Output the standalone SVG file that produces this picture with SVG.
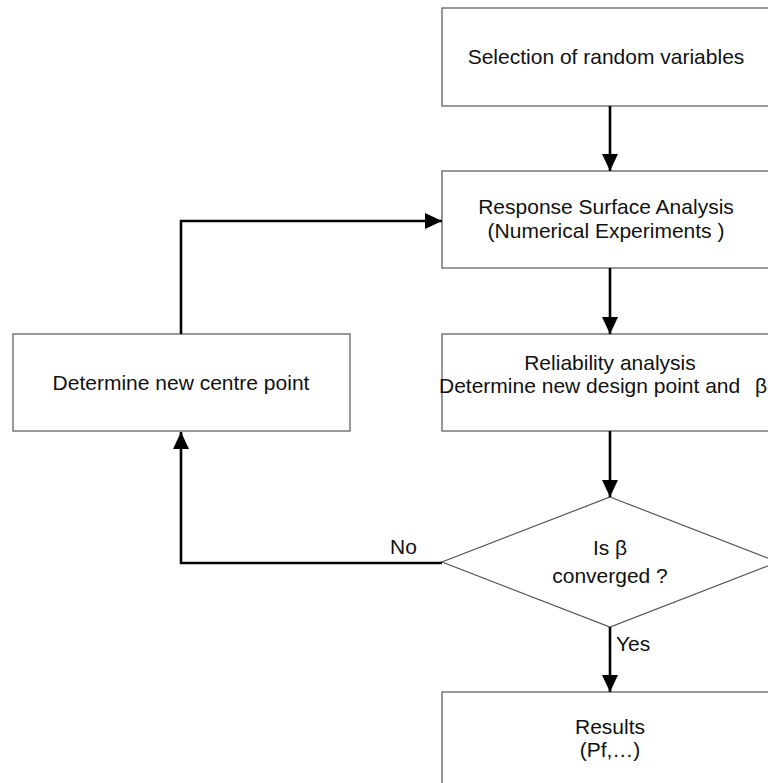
<svg xmlns="http://www.w3.org/2000/svg" width="768" height="783" viewBox="0 0 768 783">
  <style>
    .box { fill: #ffffff; stroke: #555555; stroke-width: 1.2; }
    .conn { fill: none; stroke: #000000; stroke-width: 2.6; }
    .t { font-family: "Liberation Sans", Arial, sans-serif; font-size: 21px; fill: #111111; }
    .c { text-anchor: middle; }
  </style>
  <defs>
    <marker id="arr" markerUnits="userSpaceOnUse" markerWidth="18" markerHeight="17" refX="17" refY="8" orient="auto">
      <path d="M0,0 L17,8 L0,16 Z" fill="#000000"/>
    </marker>
  </defs>
  <rect width="768" height="783" fill="#ffffff"/>

  <g id="node-selection">
    <rect class="box" x="442" y="8" width="336" height="98"/>
    <text class="t c" x="606" y="64">Selection of random variables</text>
  </g>

  <g id="node-response">
    <rect class="box" x="442" y="171" width="336" height="97"/>
    <text class="t c" x="606" y="214">Response Surface Analysis</text>
    <text class="t c" x="606" y="238" xml:space="preserve">(Numerical Experiments )</text>
  </g>

  <g id="node-reliability">
    <rect class="box" x="442" y="334" width="336" height="97"/>
    <text class="t c" x="610" y="370">Reliability analysis</text>
    <text class="t" x="439" y="393">Determine new design point and <tspan x="755">β</tspan></text>
  </g>

  <g id="node-centre">
    <rect class="box" x="13" y="334" width="337" height="97"/>
    <text class="t c" x="181" y="390">Determine new centre point</text>
  </g>

  <g id="node-decision">
    <polygon class="box" points="610,497 778,562 610,627 442,562"/>
    <text class="t c" x="610" y="555">Is β</text>
    <text class="t c" x="610" y="583">converged ?</text>
  </g>

  <g id="node-results">
    <rect class="box" x="442" y="692" width="336" height="100"/>
    <text class="t c" x="610" y="734">Results</text>
    <text class="t c" x="610" y="757">(Pf,…)</text>
  </g>

  <g id="connectors">
    <path class="conn" d="M610,106 V171" marker-end="url(#arr)"/>
    <path class="conn" d="M610,268 V334" marker-end="url(#arr)"/>
    <path class="conn" d="M610,431 V497" marker-end="url(#arr)"/>
    <path class="conn" d="M610,627 V692" marker-end="url(#arr)"/>
    <path class="conn" d="M442,563 H181 V432" marker-end="url(#arr)"/>
    <path class="conn" d="M181,334 V221 H442" marker-end="url(#arr)"/>
    <text class="t" x="390" y="554">No</text>
    <text class="t" x="616" y="651">Yes</text>
  </g>
</svg>
